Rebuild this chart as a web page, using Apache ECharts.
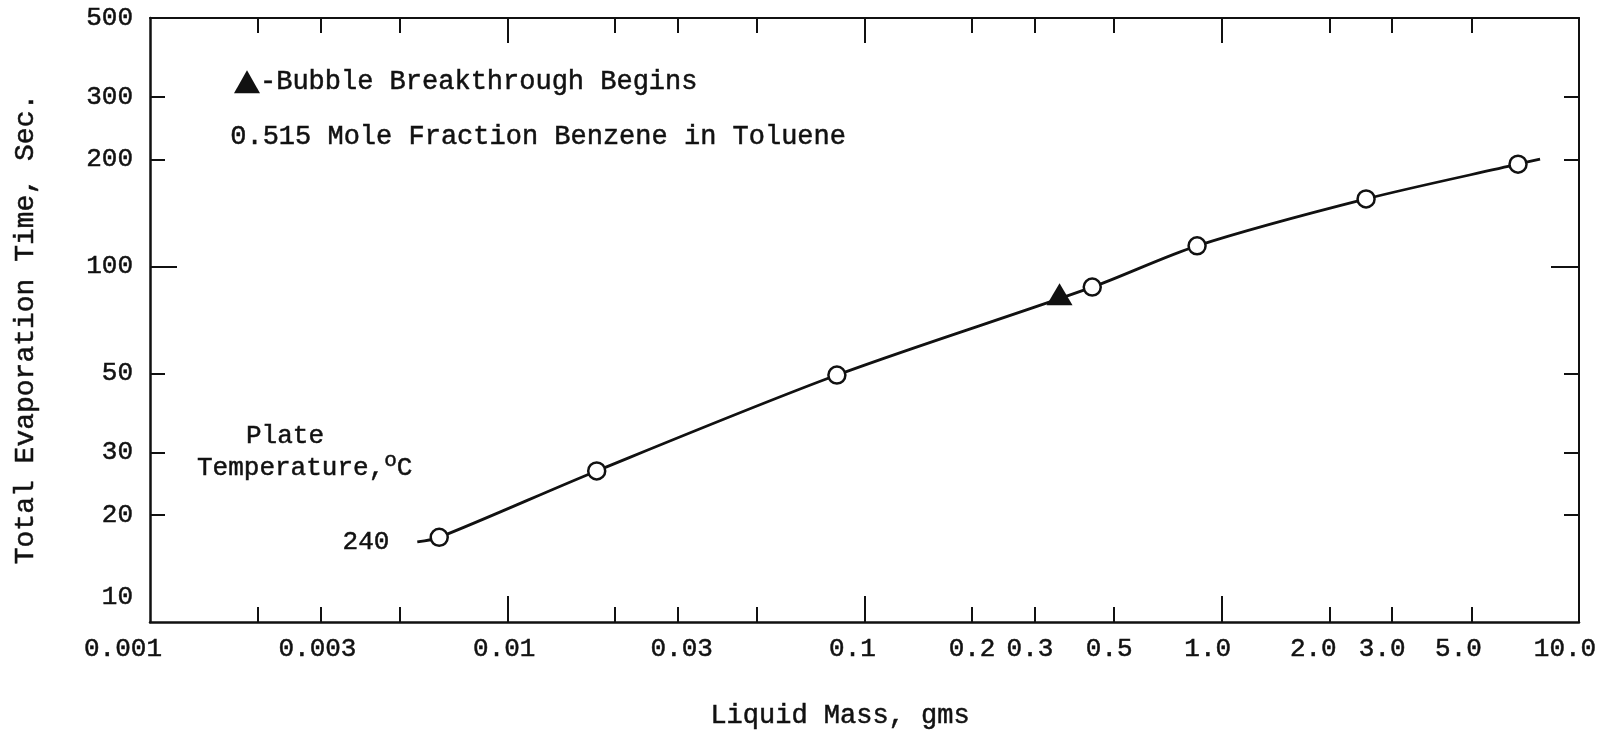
<!DOCTYPE html>
<html><head><meta charset="utf-8">
<script src="https://cdn.jsdelivr.net/npm/echarts@6/dist/echarts.min.js"></script>
<style>html,body{margin:0;padding:0;background:#fff}#c{width:1606px;height:732px}</style>
</head><body><div id="c"></div>
<script>
// ---- data ----
const circleMass = [0.00645, 0.0178, 0.0837, 0.434, 0.853, 2.535, 6.75];
const circleTime = [17.3, 26.6, 49.5, 87.5, 114.3, 154.9, 194];
const breakthroughMass = [0.3515];
const breakthroughTime = [83.5];
const curveMass = [0.0056, 0.00645, 0.0178, 0.0837, 0.434, 0.853, 2.535, 6.75, 7.78];
const curveTime = [16.8, 17.3, 26.6, 49.5, 87.5, 114.3, 154.9, 194, 200.5];
const xTickValues = [0.001, 0.003, 0.01, 0.03, 0.1, 0.2, 0.3, 0.5, 1, 2, 3, 5, 10];
const xTickLabels = ['0.001', '0.003', '0.01', '0.03', '0.1', '0.2', '0.3', '0.5', '1.0', '2.0', '3.0', '5.0', '10.0'];
const xMinorTicks = [0.002, 0.003, 0.005, 0.02, 0.03, 0.05, 0.2, 0.3, 0.5, 2, 3, 5];
const xMajorTicks = [0.01, 0.1, 1];
const yTickValues = [10, 20, 30, 50, 100, 200, 300, 500];
const yTickLabels = ['10', '20', '30', '50', '100', '200', '300', '500'];
const yMinorTicks = [20, 30, 50, 200, 300];
const yMajorTicks = [100];

// ---- style ----
const FONT = '"Liberation Mono", "DejaVu Sans Mono", monospace';
const INK = '#111';
const BW = 0.5; // slight stroke to mimic typewriter ink
const xShift = {'0.001': -27, '0.003': -3, '0.01': -3, '0.03': 4, '0.1': -12, '0.2': 0, '0.3': -5, '0.5': -5, '1.0': -14, '2.0': -16, '3.0': -10, '5.0': -13, '10.0': -14};

function idxOf(arr, v) {
  for (let i = 0; i < arr.length; i++) {
    if (Math.abs(Math.log10(arr[i]) - Math.log10(v)) < 1e-6) return i;
  }
  return -1;
}
const xRich = {};
xTickLabels.forEach((t, i) => {
  const s = xShift[t] || 0;
  xRich['x' + i] = {fontFamily: FONT, fontSize: 26, color: INK, textBorderColor: INK, textBorderWidth: BW,
    padding: s < 0 ? [0, -2 * s, 0, 0] : [0, 0, 0, 2 * s]};
});

const chart = echarts.init(document.getElementById('c'), null, {renderer: 'canvas'});
const xBase = {type: 'log', logBase: 10, min: 0.001, max: 10, splitLine: {show: false}};
const yBase = {type: 'log', logBase: 10, min: 10, max: 500, splitLine: {show: false}};
const txt = (o) => Object.assign({fontFamily: FONT, fill: INK, stroke: INK, lineWidth: BW}, o);

chart.setOption({
  animation: false,
  backgroundColor: '#fff',
  grid: {left: 150, right: 27, top: 18, bottom: 110},
  legend: {
    left: 229, top: 63,
    itemWidth: 26, itemHeight: 23, itemGap: 0,
    icon: 'triangle',
    data: ['Bubble Breakthrough Begins'],
    formatter: n => '-' + n,
    textStyle: {fontFamily: FONT, fontSize: 27, color: INK, textBorderColor: INK, textBorderWidth: BW, padding: [0, 0, 0, -5]}
  },
  xAxis: [
    Object.assign({}, xBase, {
      position: 'bottom',
      axisLine: {show: true, lineStyle: {color: INK, width: 2.5}},
      axisTick: {show: true, inside: true, length: 26, customValues: xMajorTicks, lineStyle: {color: INK, width: 2}},
      axisLabel: {show: true, margin: 14, customValues: xTickValues, showMinLabel: true, showMaxLabel: true,
        formatter: v => { const i = idxOf(xTickValues, v); return i < 0 ? '' : '{x' + i + '|' + xTickLabels[i] + '}'; },
        rich: xRich}
    }),
    Object.assign({}, xBase, {
      position: 'bottom',
      axisLine: {show: false},
      axisTick: {show: true, inside: true, length: 15, customValues: xMinorTicks, lineStyle: {color: INK, width: 2}},
      axisLabel: {show: false}
    }),
    Object.assign({}, xBase, {
      position: 'top',
      axisLine: {show: true, lineStyle: {color: INK, width: 2}},
      axisTick: {show: true, inside: true, length: 25, customValues: xMajorTicks, lineStyle: {color: INK, width: 2}},
      axisLabel: {show: false}
    }),
    Object.assign({}, xBase, {
      position: 'top',
      axisLine: {show: false},
      axisTick: {show: true, inside: true, length: 15, customValues: xMinorTicks, lineStyle: {color: INK, width: 2}},
      axisLabel: {show: false}
    })
  ],
  yAxis: [
    Object.assign({}, yBase, {
      position: 'left',
      axisLine: {show: true, lineStyle: {color: INK, width: 2.5}},
      axisTick: {show: true, inside: true, length: 27, customValues: yMajorTicks, lineStyle: {color: INK, width: 2}},
      axisLabel: {show: true, margin: 17, customValues: yTickValues, showMinLabel: true, showMaxLabel: true,
        formatter: v => { const i = idxOf(yTickValues, v); if (i < 0) return ''; return i === 0 ? '{lo|' + yTickLabels[i] + '}' : '{n|' + yTickLabels[i] + '}'; },
        rich: {
          n: {fontFamily: FONT, fontSize: 26, color: INK, textBorderColor: INK, textBorderWidth: BW},
          lo: {fontFamily: FONT, fontSize: 26, color: INK, textBorderColor: INK, textBorderWidth: BW, padding: [0, 0, 50, 0]}
        }}
    }),
    Object.assign({}, yBase, {
      position: 'left',
      axisLine: {show: false},
      axisTick: {show: true, inside: true, length: 15, customValues: yMinorTicks, lineStyle: {color: INK, width: 2}},
      axisLabel: {show: false}
    }),
    Object.assign({}, yBase, {
      position: 'right',
      axisLine: {show: true, lineStyle: {color: INK, width: 2}},
      axisTick: {show: true, inside: true, length: 28, customValues: yMajorTicks, lineStyle: {color: INK, width: 2}},
      axisLabel: {show: false}
    }),
    Object.assign({}, yBase, {
      position: 'right',
      axisLine: {show: false},
      axisTick: {show: true, inside: true, length: 15, customValues: yMinorTicks, lineStyle: {color: INK, width: 2}},
      axisLabel: {show: false}
    })
  ],
  series: [
    {
      name: 'curve', type: 'line', xAxisIndex: 0, yAxisIndex: 0,
      data: curveMass.map((m, i) => [m, curveTime[i]]),
      smooth: 0.3, showSymbol: false, symbol: 'none',
      lineStyle: {color: INK, width: 2.8}, z: 2
    },
    {
      name: '240', type: 'scatter', xAxisIndex: 0, yAxisIndex: 0,
      data: circleMass.map((m, i) => [m, circleTime[i]]),
      symbol: 'circle', symbolSize: 17,
      itemStyle: {color: '#fff', borderColor: INK, borderWidth: 2.5, opacity: 1}, z: 3
    },
    {
      name: 'Bubble Breakthrough Begins', type: 'scatter', xAxisIndex: 0, yAxisIndex: 0,
      data: breakthroughMass.map((m, i) => [m, breakthroughTime[i]]),
      symbol: 'triangle', symbolSize: [26, 22],
      itemStyle: {color: INK, opacity: 1}, z: 4
    }
  ],
  graphic: [
    {type: 'text', left: 230, top: 123,
      style: txt({text: '0.515 Mole Fraction Benzene in Toluene', fontSize: 27})},
    {type: 'text', x: 285, y: 436,
      style: txt({text: 'Plate', fontSize: 26, align: 'center', verticalAlign: 'middle'})},
    {type: 'text', x: 197, y: 468,
      style: {text: '{n|Temperature,}{s|o}{n|C}', fill: INK, align: 'left', verticalAlign: 'middle',
        rich: {n: {fontFamily: FONT, fontSize: 26, fill: INK, stroke: INK, lineWidth: BW, lineHeight: 30},
               s: {fontFamily: FONT, fontSize: 21, fill: INK, stroke: INK, lineWidth: BW, lineHeight: 30, padding: [0, 0, 16, 0]}}}},
    {type: 'text', x: 366, y: 542,
      style: txt({text: '240', fontSize: 26, align: 'center', verticalAlign: 'middle'})},
    {type: 'text', x: 26, y: 329, rotation: Math.PI / 2,
      style: txt({text: 'Total Evaporation Time, Sec.', fontSize: 28, align: 'center', verticalAlign: 'middle'})},
    {type: 'text', x: 840, y: 716,
      style: txt({text: 'Liquid Mass, gms', fontSize: 27, align: 'center', verticalAlign: 'middle'})}
  ]
});
</script>
</body></html>
